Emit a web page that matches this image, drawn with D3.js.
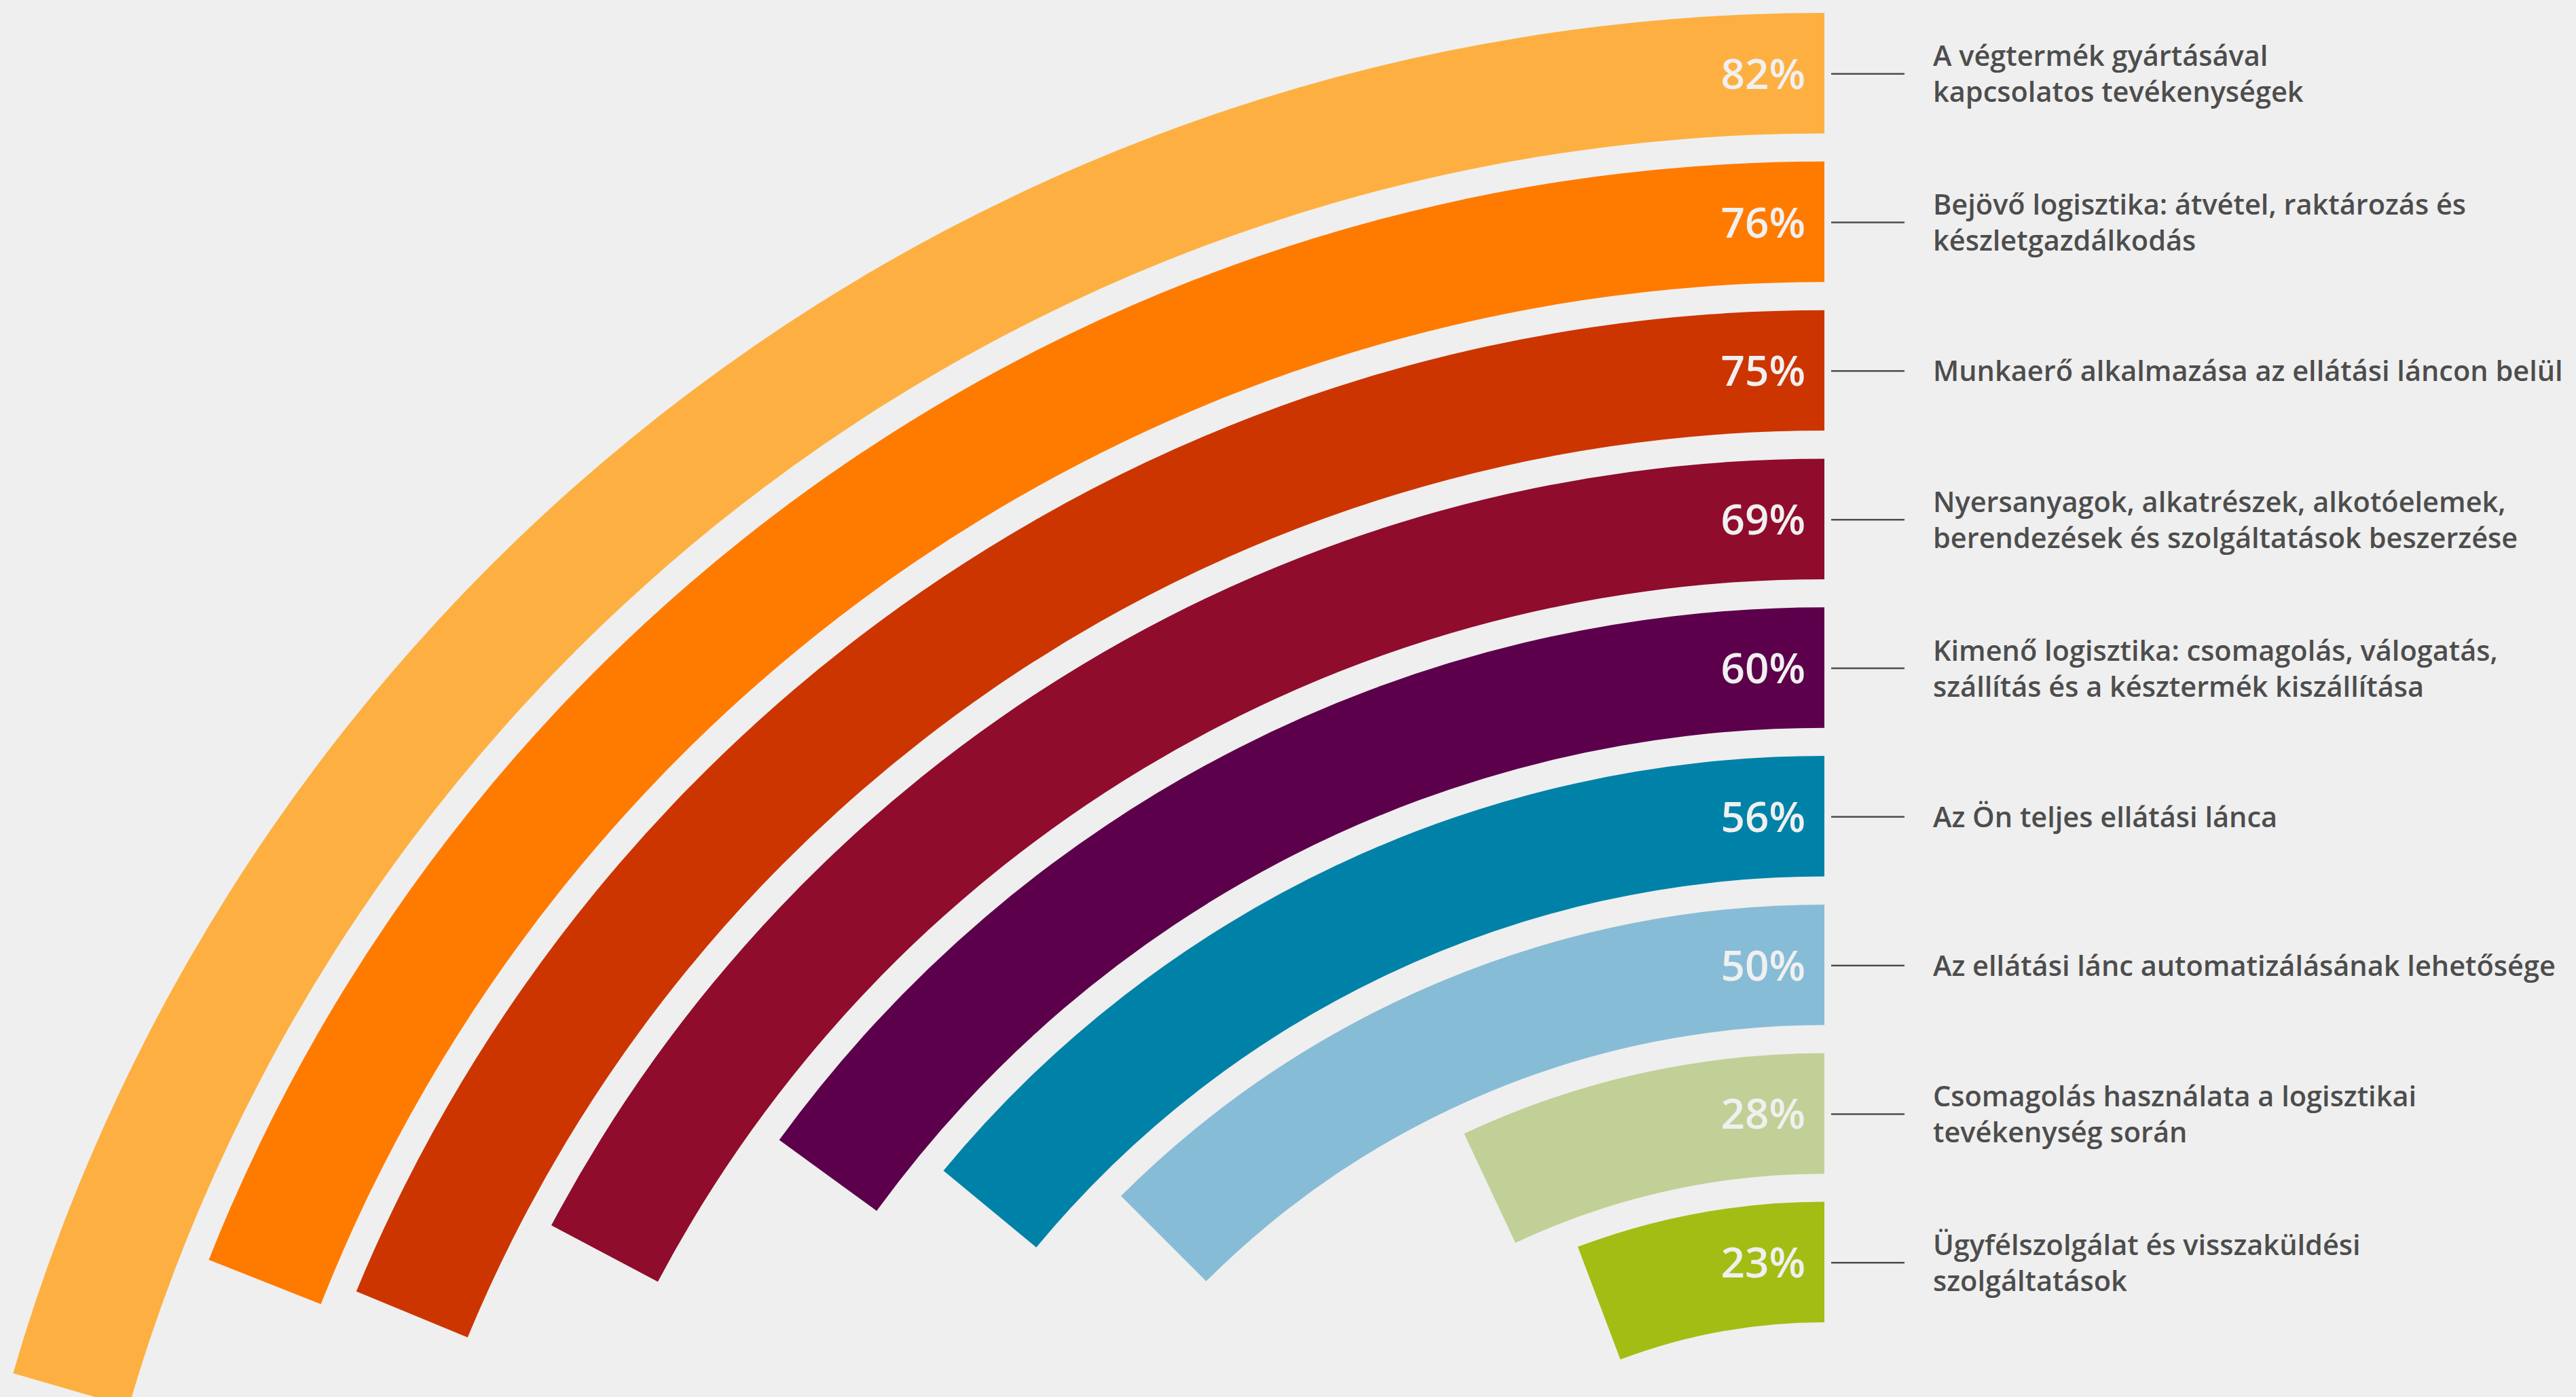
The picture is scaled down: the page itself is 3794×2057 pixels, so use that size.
<!DOCTYPE html>
<html>
<head>
<meta charset="utf-8">
<script src="https://cdn.jsdelivr.net/npm/d3@7"></script>
<style>
html,body{margin:0;padding:0;background:#efefef;}
svg{display:block;}
</style>
</head>
<body>
<svg id="chart" width="3794" height="2057"></svg>
<script>
const categories = [
  "A végtermék gyártásával kapcsolatos tevékenységek",
  "Bejövő logisztika: átvétel, raktározás és készletgazdálkodás",
  "Munkaerő alkalmazása az ellátási láncon belül",
  "Nyersanyagok, alkatrészek, alkotóelemek, berendezések és szolgáltatások beszerzése",
  "Kimenő logisztika: csomagolás, válogatás, szállítás és a késztermék kiszállítása",
  "Az Ön teljes ellátási lánca",
  "Az ellátási lánc automatizálásának lehetősége",
  "Csomagolás használata a logisztikai tevékenység során",
  "Ügyfélszolgálat és visszaküldési szolgáltatások"
];
const labelLines = [
  ["A végtermék gyártásával", "kapcsolatos tevékenységek"],
  ["Bejövő logisztika: átvétel, raktározás és", "készletgazdálkodás"],
  ["Munkaerő alkalmazása az ellátási láncon belül"],
  ["Nyersanyagok, alkatrészek, alkotóelemek,", "berendezések és szolgáltatások beszerzése"],
  ["Kimenő logisztika: csomagolás, válogatás,", "szállítás és a késztermék kiszállítása"],
  ["Az Ön teljes ellátási lánca"],
  ["Az ellátási lánc automatizálásának lehetősége"],
  ["Csomagolás használata a logisztikai", "tevékenység során"],
  ["Ügyfélszolgálat és visszaküldési", "szolgáltatások"]
];
const values = [82, 76, 75, 69, 60, 56, 50, 28, 23];
const colors = ["#fdb041", "#ff7b00", "#cc3500", "#8f0c2c", "#5c004b", "#0082a8", "#87bcd7", "#c1d096", "#a3bd14"];

const svg = d3.select("#chart");
const cx = 2687, cy = 2797;

const y = d3.scaleBand().domain(categories).range([19, 1947]).paddingInner(0.189).paddingOuter(0);
const angle = d3.scaleLinear().domain([0, 100]).range([0, -Math.PI / 2]);

const data = categories.map((c, i) => ({cat: c, value: values[i], color: colors[i], lines: labelLines[i]}));

const arc = d3.arc()
  .innerRadius(d => cy - (y(d.cat) + y.bandwidth()))
  .outerRadius(d => cy - y(d.cat))
  .startAngle(0)
  .endAngle(d => angle(d.value));

svg.append("g").attr("transform", `translate(${cx},${cy})`)
  .selectAll("path").data(data).join("path")
  .attr("d", arc)
  .attr("fill", d => d.color);

const g = svg.append("g");
// percentage labels
g.selectAll("text.pct").data(data).join("text")
  .attr("class", "pct")
  .attr("x", cx - 28)
  .attr("y", d => y(d.cat) + y.bandwidth() / 2 + 23)
  .attr("text-anchor", "end")
  .attr("font-family", "'Open Sans', sans-serif")
  .attr("font-size", 62)
  .attr("font-weight", 600)
  .attr("fill", "#f0f0f0")
  .text(d => d.value + "%");

// leader lines
g.selectAll("line.lead").data(data).join("line")
  .attr("class", "lead")
  .attr("x1", cx + 10).attr("x2", cx + 118)
  .attr("y1", d => y(d.cat) + y.bandwidth() / 2 + 1)
  .attr("y2", d => y(d.cat) + y.bandwidth() / 2 + 1)
  .attr("stroke", "#4d4d4d").attr("stroke-width", 2.5);

// fit label font so the longest line spans the same width as in the reference
const probe = svg.append("text")
  .attr("font-family", "'Open Sans', sans-serif")
  .attr("font-size", 43).attr("font-weight", 600)
  .text("Munkaerő alkalmazása az ellátási láncon belül");
const w = probe.node().getComputedTextLength();
probe.remove();
const fs = Math.min(43, 43 * 928 / w);

// category labels
const lh = 53;
g.selectAll("text.cat").data(data).join("text")
  .attr("class", "cat")
  .attr("font-family", "'Open Sans', sans-serif")
  .attr("font-size", fs)
  .attr("font-weight", 600)
  .attr("fill", "#4d4d4d")
  .each(function(d) {
    const t = d3.select(this);
    const c = y(d.cat) + y.bandwidth() / 2;
    const n = d.lines.length;
    const first = c + 16 - (n - 1) * lh / 2;
    d.lines.forEach((ln, k) => {
      t.append("tspan").attr("x", cx + 160).attr("y", first + k * lh).text(ln);
    });
  });
</script>
</body>
</html>
